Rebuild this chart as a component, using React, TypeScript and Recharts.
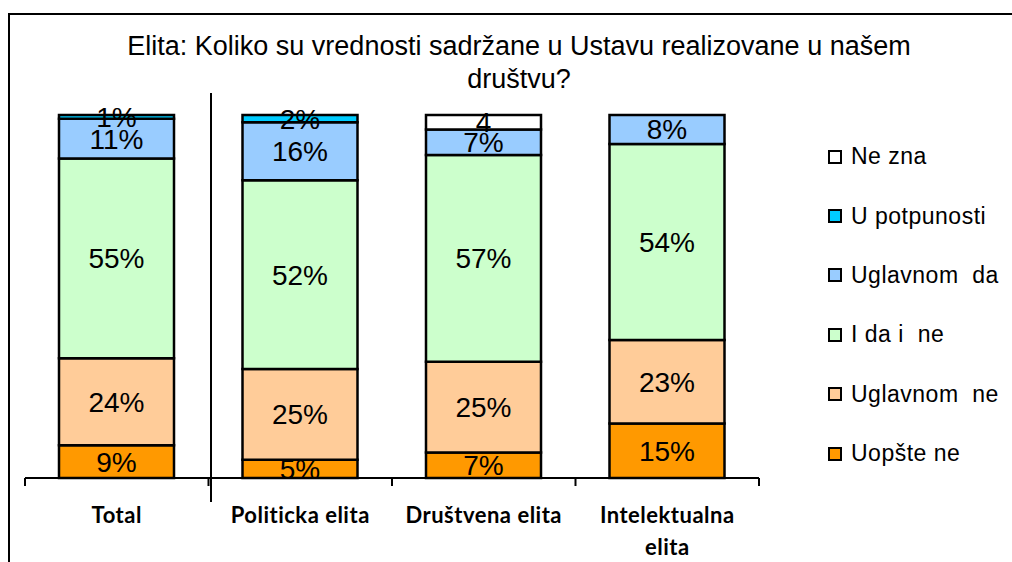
import { BarChart, Bar, XAxis, YAxis, LabelList } from 'recharts';

const categories = ['Total', 'Politicka elita', 'Društvena elita', 'Intelektualna elita'];
const tickLines = [['Total'], ['Politicka elita'], ['Društvena elita'], ['Intelektualna', 'elita']];
const uopsteNe = [9, 5, 7, 15];
const uglavnomNe = [24, 25, 25, 23];
const daINe = [55, 52, 57, 54];
const uglavnomDa = [11, 16, 7, 8];
const uPotpunosti = [1, 2, 0, 0];
const neZna = [0, 0, 4, 0];

// bottom to top in the stack
const series = [
  { key: 'uopsteNe', name: 'Uopšte ne', color: '#FF9900', values: uopsteNe, suffix: '%' },
  { key: 'uglavnomNe', name: 'Uglavnom  ne', color: '#FFCC99', values: uglavnomNe, suffix: '%' },
  { key: 'daINe', name: 'I da i  ne', color: '#CCFFCC', values: daINe, suffix: '%' },
  { key: 'uglavnomDa', name: 'Uglavnom  da', color: '#99CCFF', values: uglavnomDa, suffix: '%' },
  { key: 'uPotpunosti', name: 'U potpunosti', color: '#00CCFF', values: uPotpunosti, suffix: '%' },
  { key: 'neZna', name: 'Ne zna', color: '#FFFFFF', values: neZna, suffix: '' },
];

const data = categories.map((name, i) => {
  const row: Record<string, string | number> = { name };
  series.forEach(s => { row[s.key] = s.values[i]; });
  return row;
});

const font = '"Liberation Sans", Arial, sans-serif';
const chartW = 1012;
const margin = { top: 115, right: 253, bottom: 0, left: 25 };
const band = (chartW - margin.left - margin.right) / categories.length;

// category label plus the tick marks at the band edges
const CategoryTick = (props: any) => {
  const { x, y, index } = props;
  const lines = tickLines[index] || [];
  return (
    <g>
      <line x1={x - band / 2} x2={x - band / 2} y1={y} y2={y + 8} stroke="#000" strokeWidth={2} />
      {index === categories.length - 1 && (
        <line x1={x + band / 2} x2={x + band / 2} y1={y} y2={y + 8} stroke="#000" strokeWidth={2} />
      )}
      <text textAnchor="middle" fontFamily="Lato, sans-serif" fontWeight="bold" fontSize={22} letterSpacing={0.5} fill="#000">
        {lines.map((l, i) => (
          <tspan key={i} x={x} y={y + 45 + i * 32}>{l}</tspan>
        ))}
      </text>
    </g>
  );
};

export default function App() {
  return (
    <div style={{ position: 'absolute', left: 0, top: 0, width: 1012, height: 562, background: '#fff', overflow: 'hidden' }}>
      <div style={{ position: 'absolute', left: 8, top: 13, width: 1004, height: 2, background: '#000' }} />
      <div style={{ position: 'absolute', left: 8, top: 13, width: 2, height: 549, background: '#000' }} />
      <div style={{ position: 'absolute', left: 69, top: 30, width: 900, textAlign: 'center', fontFamily: font, fontSize: 27, lineHeight: '33px' }}>
        Elita: Koliko su vrednosti sadržane u Ustavu realizovane u našem<br />društvu?
      </div>
      <BarChart width={chartW} height={562} data={data} margin={margin}>
        <XAxis dataKey="name" height={84} axisLine={{ stroke: '#000', strokeWidth: 2 }} tickLine={false}
          tickSize={0} tickMargin={0} tick={<CategoryTick />} interval={0} />
        <YAxis hide domain={[0, 100]} />
        {series.map(s => (
          <Bar key={s.key} dataKey={s.key} name={s.name} stackId="a" fill={s.color} stroke="#000" strokeWidth={2.5}
            barSize={115} isAnimationActive={false}>
            <LabelList dataKey={s.key} position="center" fill="#000" fontSize={28} fontFamily={font}
              formatter={(v: any) => (v ? `${v}${s.suffix}` : '')} />
          </Bar>
        ))}
      </BarChart>
      <div style={{ position: 'absolute', left: 210, top: 93, width: 2, height: 409, background: '#000' }} />
      <div style={{ position: 'absolute', left: 828, top: 127, width: 184, fontFamily: font, fontSize: 23, letterSpacing: 0.5 }}>
        {[...series].reverse().map(s => (
          <div key={s.key} style={{ height: 59.4, display: 'flex', alignItems: 'center' }}>
            <span style={{ width: 10, height: 10, border: '2px solid #000', background: s.color, display: 'inline-block', marginRight: 9, flex: 'none' }} />
            <span style={{ whiteSpace: 'pre' }}>{s.name}</span>
          </div>
        ))}
      </div>
    </div>
  );
}
